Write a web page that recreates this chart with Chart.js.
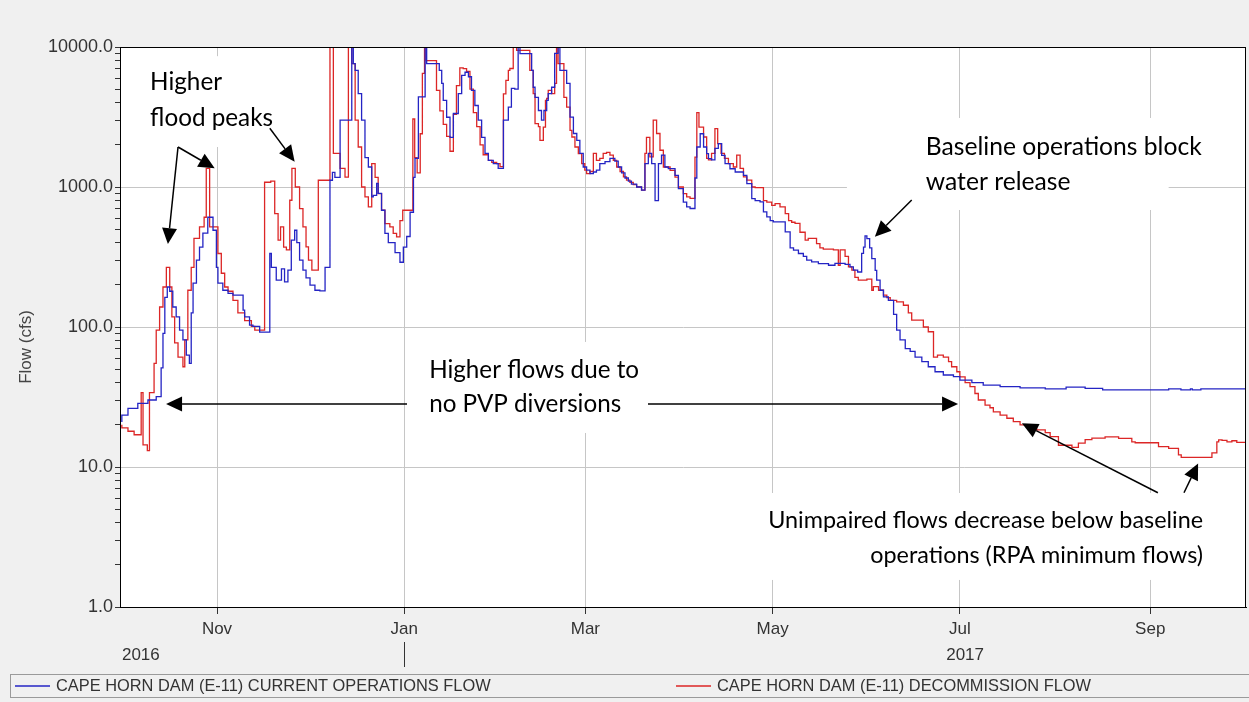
<!DOCTYPE html>
<html lang="en">
<head>
  <meta charset="UTF-8" />
  <title>Cape Horn Dam (E-11) Flow</title>
  <script src="https://cdn.jsdelivr.net/npm/chart.js"></script>
  <style>
    html, body { margin: 0; padding: 0; background: #f0f0f0; }
    canvas { display: block; }
  </style>
</head>
<body>
  <canvas id="flowChart" width="1249" height="702"></canvas>

  <script>
    // day 0 = 1 Oct 2016 (water year 2017), flows in cfs
    const seriesNames = [
      'CAPE HORN DAM (E-11) CURRENT OPERATIONS FLOW',
      'CAPE HORN DAM (E-11) DECOMMISSION FLOW'
    ];

    const currentDays = [0, 2, 5.2, 8.5, 11.2, 12.8, 13.4, 14, 14.8, 15.6, 16.6, 17.7, 18.8, 19.9, 21, 22, 22.6, 23.2, 24.3, 25.3,
      26.4, 28, 29.7, 30.8, 31.3, 32.9, 34.6, 36.2, 39.5, 40, 41.6, 42.7, 44.9, 48.2, 48.7, 50.3, 52, 53, 54.1, 55.2,
      56.3, 57, 57.9, 59, 60, 61.3, 62.9, 64.5, 66.2, 67.8, 68.6, 69.4, 71.1, 74.9, 75.4, 76, 77, 78.1, 79.2, 80.3,
      81.4, 81.9, 83, 83.5, 84.6, 85.7, 86.8, 89, 90.6, 91.7, 92.8, 93.9, 95, 95.5, 96.6, 98.8, 99.3, 103.4, 104.2, 104.7,
      105.8, 106.9, 108, 109.6, 110.7, 111.8, 112.9, 113.9, 115, 116.1, 117.2, 118.3, 119.4, 121, 122.6, 124.3, 125.9, 126.9, 128, 129.1,
      129.7, 133.5, 134, 134.6, 135.7, 136.7, 137.5, 138.4, 138.9, 140, 141, 142.1, 142.7, 144.9, 146, 147.1, 148.2, 149.2, 150.3, 151.4,
      152.5, 153.6, 154.6, 155.7, 157.4, 159, 160.6, 161.7, 162.8, 163.9, 165, 166, 167.7, 169.3, 170.4, 171.5, 172.6, 173.7, 174.8, 175.8,
      176.9, 178, 180.2, 181.3, 182.9, 184, 185.1, 186.7, 187.3, 188.4, 189.5, 190.5, 191.1, 192.1, 193.2, 194.3, 195.4, 196.5, 198.1, 199.8,
      202.5, 203.6, 205.2, 206.3, 207.9, 209, 210.1, 211.2, 212.2, 216.1, 217.7, 218.8, 220.4, 222, 223.1, 224.7, 226.9, 230.2, 232.3, 235.6,
      237.2, 238.3, 239.7, 241, 241.6, 242.1, 242.7, 243.6, 244.3, 245.4, 245.9, 247, 248.1, 249.7, 251.4, 252.4, 253.5, 255.2, 256.8, 258.4,
      260.6, 262.7, 264.9, 267.6, 270.9, 273, 276.9, 280.6, 286.1, 292.6, 300.8, 307.6, 313.8, 319.5, 341, 345, 348.1, 348.7, 351.5, 352.6,
      366];
    const currentFlow = [21, 23.5, 26.2, 28.5, 30.1, 31.8, 51, 90, 163, 193, 180, 139, 118, 95, 81, 63, 55, 126, 206, 300,
      372, 468, 608, 491, 267, 206, 183, 174, 169, 132, 118, 103, 101, 92, 335, 267, 216, 260, 210, 255,
      417, 491, 400, 300, 255, 224, 199, 183, 181, 267, 1117, 1270, 1170, 3000, 15000, 7620, 6800, 4650, 3000, 1620,
      1390, 850, 870, 1060, 900, 682, 467, 400, 340, 290, 372, 443, 660, 1170, 1600, 4400, 15000, 7620, 6800, 5500,
      4160, 3150, 2260, 3350, 4650, 6280, 6600, 6130, 4900, 3820, 3000, 2260, 1740, 1550, 1470, 1360, 3000, 3720, 5060, 5000,
      15000, 8980, 6800, 5160, 4370, 3520, 3000, 3520, 4160, 4650, 5160, 9000, 15000, 6800, 5500, 3160, 2410, 2150, 1740, 1390,
      1320, 1245, 1280, 1320, 1470, 1520, 1600, 1530, 1390, 1260, 1160, 1100, 1050, 1000, 950, 1470, 1740, 1470, 800, 1470,
      1690, 1390, 1353, 1211, 973, 780, 720, 702, 1160, 1930, 2400, 1930, 1730, 1596, 1560, 1890, 2040, 1683, 1470, 1350,
      1280, 1210, 1057, 826, 800, 782, 664, 611, 576, 563, 478, 367, 354, 335, 320, 300, 292, 284, 276, 285,
      280, 269, 255, 247, 336, 372, 447, 428, 367, 308, 254, 216, 183, 164, 155, 123, 95, 81, 70, 67,
      61, 56.5, 52, 47.9, 45.4, 44.2, 41.8, 40, 38.5, 37.5, 36.8, 36.2, 37.2, 36.4, 35.6, 36.2, 35.5, 36.2, 35.5, 36.2,
      36.2];

    const decomDays = [0, 2, 4, 6.3, 6.9, 8.3, 9, 10.5, 11.2, 12.3, 13.4, 14.5, 15.6, 16.3, 17.2, 18.3, 19.9, 20.5, 21.5, 22.6,
      23.5, 25.3, 26.8, 27.5, 28.6, 31.3, 32.4, 33.5, 34.6, 36.2, 37.8, 40, 42.2, 43.3, 46.5, 48.5, 49.8, 50.9, 51.7, 52.7,
      53.6, 54.7, 55.4, 56.5, 57.9, 59, 60, 60.8, 61.9, 64, 67.8, 68.9, 71.1, 72.7, 73.8, 74.9, 76, 77, 78.1, 79.2,
      80.3, 81.4, 82.5, 83.5, 84.6, 85.7, 87.3, 88.4, 89.5, 90.6, 91.5, 94.8, 95.4, 96.2, 97.2, 97.9, 98.6, 99.1, 102.5, 103.6,
      104.7, 105.8, 106.9, 108, 109, 110.1, 111.2, 112.3, 113.4, 114.5, 115.6, 116.7, 117.7, 119.4, 120.5, 122.1, 123.2, 124.3, 125.1, 125.9,
      126.4, 127.5, 128.6, 132.9, 134, 134.6, 135.7, 136.2, 137.3, 138, 138.4, 138.9, 140, 141, 141.6, 142.1, 144, 144.9, 146, 146.6,
      147.6, 148.7, 149.8, 150.8, 151.4, 152.5, 153.6, 154.6, 155.7, 156.8, 157.9, 159, 160.1, 161.2, 162.3, 163.4, 164.4, 165.5, 166.6, 167.7,
      169.3, 170.4, 170.9, 172, 173.1, 174.2, 175.3, 176.4, 178.6, 180.2, 181.3, 182.9, 184, 185.1, 186.7, 187.3, 188, 189.5, 190.5, 191.1,
      192.1, 193.2, 194.1, 195.2, 196.3, 197.6, 199.2, 200.3, 201.4, 202.5, 203.6, 205.2, 206.3, 209, 210.1, 211.7, 212.8, 214.4, 216.1, 217.2,
      218.2, 219.3, 220.9, 222.6, 223.6, 226.3, 227.4, 228.5, 231.8, 233.4, 234, 234.5, 235.6, 236.7, 237.8, 238.8, 239.9, 242.7, 244.3, 244.8,
      246.5, 248.1, 249.2, 250.3, 252.4, 254.6, 256.2, 257.3, 261.1, 262.7, 264.4, 265.7, 267.6, 269.3, 270.3, 272, 273, 274.7, 276.3, 277.9,
      279, 281.2, 282.8, 283.9, 286.1, 288.3, 290.4, 292.6, 294.8, 298, 300.8, 302.4, 305.1, 309.5, 311.6, 313.8, 316, 320.3, 324.7, 329,
      330.1, 337.7, 341, 344.2, 345.1, 348.6, 355.1, 356.7, 357.3, 358.4, 360, 361.6, 363.2, 366];
    const decomFlow = [20, 19, 18, 17, 34, 14.4, 13.1, 34, 55, 95, 139, 193, 267, 193, 118, 77, 61, 52, 81, 183,
      267, 430, 519, 608, 1360, 519, 335, 242, 193, 180, 155, 126, 111, 101, 95, 1081, 1100, 645, 417, 519,
      372, 355, 804, 1360, 1000, 700, 519, 373, 300, 255, 1117, 15000, 1740, 1360, 1178, 15000, 7620, 3000, 1930, 1000,
      850, 720, 1469, 1170, 897, 682, 548, 519, 467, 440, 576, 682, 3060, 1620, 1260, 2400, 6470, 15000, 8000, 4900,
      3500, 2800, 2300, 1800, 3300, 5300, 7100, 7000, 6700, 5000, 3400, 2700, 2000, 1700, 1550, 1500, 1470, 1400, 4630, 5770,
      6800, 7020, 15000, 9450, 6800, 4650, 2840, 2700, 2150, 2680, 4160, 4300, 4900, 4650, 5500, 15000, 7620, 4370, 3720, 2540,
      2275, 1930, 1730, 1470, 1320, 1245, 1290, 1740, 1550, 1600, 1740, 1770, 1690, 1550, 1390, 1290, 1180, 1120, 1080, 1040,
      1000, 950, 1740, 2260, 1640, 3000, 2410, 1830, 1390, 1316, 1178, 1000, 897, 849, 830, 1637, 3400, 2680, 2275, 1600,
      1560, 1740, 2610, 2040, 1740, 1600, 1469, 1390, 1690, 1360, 1180, 1120, 1000, 990, 800, 780, 740, 761, 720, 645,
      576, 560, 550, 475, 417, 430, 394, 367, 360, 355, 276, 356, 356, 320, 269, 255, 226, 216, 220, 183,
      194, 183, 169, 162, 155, 151, 143, 126, 112, 100, 92.5, 61, 63, 61, 56.5, 52, 47.9, 44, 40, 37.5,
      33.5, 30.1, 27.7, 26.5, 24.8, 23.5, 22.3, 21.1, 20, 19.2, 18.4, 17.6, 16.5, 14.3, 13.8, 14.8, 15.7, 16.1, 16.4, 16,
      15.1, 14.9, 14, 13.6, 12.2, 11.7, 11.7, 12.6, 15.1, 15.6, 15.5, 15.1, 15.4, 15];

    // axis labels
    const monthTicks = [31, 92, 151, 212, 273, 335];
    const monthLabels = ['Nov', 'Jan', 'Mar', 'May', 'Jul', 'Sep'];
    const yearLabels = ['2016', '2017'];
    const yearDays = [6.2, 274.7];
    const yearBreakDay = 92;

    // callouts, placed in data units (day, cfs)
    const notes = [
      { lines: ['Higher', 'flood peaks'], day: 9.2, flows: [4930, 2730], align: 'left', width: 123 },
      { lines: ['Baseline operations block', 'water release'], day: 261.9, flows: [1693, 952], align: 'left', width: 276 },
      { lines: ['Higher flows due to', 'no PVP diversions'], day: 100.1, flows: [43.3, 24.7], align: 'left', width: 210 },
      { lines: ['Unimpaired flows decrease below baseline', 'operations (RPA minimum flows)'], day: 352.2, flows: [3.66, 2.06], align: 'right', width: 435 }
    ];
    const noteBoxes = [
      [2, 50.9, 8600, 1931],
      [236.2, 341, 3112, 685],
      [93.2, 171.4, 78.2, 17.5],
      [204.6, 361, 6.52, 1.56]
    ];
    const arrows = [
      [18.3, 1931, 15.0, 391],
      [18.3, 1931, 30.25, 1360],
      [48.2, 2625, 56.3, 1517],
      [257.3, 807, 245.3, 441],
      [92.9, 28.2, 14.4, 28.2],
      [171.4, 28.2, 272.4, 28.2],
      [337.5, 6.55, 293.2, 20.5],
      [346, 6.55, 350.6, 10.6]
    ];

    const BLUE = '#2424c4';
    const RED = '#dc2626';
    const AXIS_FONT = 'Liberation Sans, Arial, sans-serif';

    const isDecade = v => Math.abs(Math.log10(v) - Math.round(Math.log10(v))) < 1e-9;

    function drawArrow(ctx, x1, y1, x2, y2) {
      const a = Math.atan2(y2 - y1, x2 - x1);
      const len = 16, hw = 7.5;
      const bx = x2 - len * Math.cos(a), by = y2 - len * Math.sin(a);
      ctx.beginPath();
      ctx.moveTo(x1, y1);
      ctx.lineTo(bx, by);
      ctx.stroke();
      ctx.beginPath();
      ctx.moveTo(x2, y2);
      ctx.lineTo(bx + hw * Math.sin(a), by - hw * Math.cos(a));
      ctx.lineTo(bx - hw * Math.sin(a), by + hw * Math.cos(a));
      ctx.closePath();
      ctx.fill();
    }

    const decorations = {
      id: 'decorations',
      beforeDraw(chart) {
        const { ctx, chartArea: a } = chart;
        ctx.save();
        ctx.fillStyle = '#f0f0f0';
        ctx.fillRect(0, 0, chart.width, chart.height);
        ctx.fillStyle = '#fff';
        ctx.fillRect(a.left, a.top, a.right - a.left, a.bottom - a.top);
        ctx.restore();
      },
      beforeDatasetsDraw(chart) {
        // white boxes behind the callout text hide the grid
        const { ctx, scales: { x, y } } = chart;
        ctx.save();
        ctx.fillStyle = '#fff';
        noteBoxes.forEach(([d1, d2, f1, f2]) => {
          const x1 = x.getPixelForValue(d1), x2 = x.getPixelForValue(d2);
          const y1 = y.getPixelForValue(f1), y2 = y.getPixelForValue(f2);
          ctx.fillRect(x1, y1, x2 - x1, y2 - y1);
        });
        ctx.restore();
      },
      afterDatasetsDraw(chart) {
        const { ctx, chartArea: a, scales: { x, y } } = chart;
        ctx.save();
        // frame
        ctx.strokeStyle = '#000';
        ctx.lineWidth = 1;
        ctx.strokeRect(a.left + 0.5, a.top + 0.5, a.right - a.left - 1, a.bottom - a.top);

        // arrows
        ctx.strokeStyle = '#000';
        ctx.fillStyle = '#000';
        ctx.lineWidth = 1.5;
        arrows.forEach(([d1, f1, d2, f2]) => {
          drawArrow(ctx, x.getPixelForValue(d1), y.getPixelForValue(f1),
                         x.getPixelForValue(d2), y.getPixelForValue(f2));
        });

        // callout text
        notes.forEach(n => {
          ctx.font = '100px Lato';
          const w = Math.max(...n.lines.map(l => ctx.measureText(l).width));
          const size = 100 * n.width / w;
          ctx.font = size.toFixed(2) + 'px Lato';
          ctx.textAlign = n.align;
          ctx.textBaseline = 'alphabetic';
          ctx.fillStyle = '#000';
          n.lines.forEach((l, i) => {
            ctx.fillText(l, x.getPixelForValue(n.day), y.getPixelForValue(n.flows[i]));
          });
        });
        ctx.restore();
      },
      afterDraw(chart) {
        const { ctx, scales: { x } } = chart;
        ctx.save();
        // y axis title
        ctx.fillStyle = '#444';
        ctx.font = '17px ' + AXIS_FONT;
        ctx.textAlign = 'center';
        ctx.textBaseline = 'middle';
        ctx.translate(26, 347);
        ctx.rotate(-Math.PI / 2);
        ctx.fillText('Flow (cfs)', 0, 0);
        ctx.setTransform(1, 0, 0, 1, 0, 0);

        // year row
        ctx.fillStyle = '#333';
        yearLabels.forEach((t, i) => ctx.fillText(t, x.getPixelForValue(yearDays[i]), 655));
        const bx = Math.round(x.getPixelForValue(yearBreakDay)) + 0.5;
        ctx.strokeStyle = '#333';
        ctx.lineWidth = 1;
        ctx.beginPath();
        ctx.moveTo(bx, 642);
        ctx.lineTo(bx, 667);
        ctx.stroke();

        // legend strip
        ctx.strokeStyle = '#9a9a9a';
        ctx.strokeRect(10.5, 674.5, chart.width - 10, 23);
        const items = [[15, 50, BLUE], [676, 711, RED]];
        ctx.font = '16.4px ' + AXIS_FONT;
        ctx.textAlign = 'left';
        ctx.fillStyle = '#333';
        items.forEach(([x1, x2, c], i) => {
          ctx.strokeStyle = c;
          ctx.lineWidth = 1.5;
          ctx.beginPath();
          ctx.moveTo(x1, 686);
          ctx.lineTo(x2, 686);
          ctx.stroke();
          ctx.fillText(seriesNames[i], x2 + 6, 686);
        });
        ctx.restore();
      }
    };

    const toPoints = (days, flows) => days.map((d, i) => ({ x: d, y: flows[i] }));

    new Chart(document.getElementById('flowChart').getContext('2d'), {
      type: 'line',
      data: {
        datasets: [
          {
            label: seriesNames[0],
            data: toPoints(currentDays, currentFlow),
            borderColor: BLUE,
            borderWidth: 1.3,
            pointRadius: 0,
            stepped: 'after',
            fill: false
          },
          {
            label: seriesNames[1],
            data: toPoints(decomDays, decomFlow),
            borderColor: RED,
            borderWidth: 1.3,
            pointRadius: 0,
            stepped: 'after',
            fill: false
          }
        ]
      },
      options: {
        responsive: false,
        animation: false,
        devicePixelRatio: 1,
        layout: { padding: { top: 47, right: 3, left: 0, bottom: 0 } },
        plugins: {
          legend: { display: false },
          tooltip: { enabled: false }
        },
        scales: {
          x: {
            type: 'linear',
            min: -0.6,
            max: 366.2,
            afterBuildTicks: s => { s.ticks = monthTicks.map(v => ({ value: v })); },
            afterFit: s => { s.height = 95; },
            ticks: {
              autoSkip: false,
              maxRotation: 0,
              padding: 5,
              color: '#333',
              font: { family: AXIS_FONT, size: 17 },
              callback: (v, i) => monthLabels[i]
            },
            grid: { color: '#c6c6c6', tickColor: '#333', tickLength: 7 },
            border: { color: '#000' }
          },
          y: {
            type: 'logarithmic',
            min: 1,
            max: 10000,
            afterBuildTicks: s => {
              const t = [];
              for (let e = 0; e < 4; e++) {
                for (let m = 1; m < 10; m++) t.push({ value: m * Math.pow(10, e) });
              }
              t.push({ value: 10000 });
              s.ticks = t;
            },
            afterFit: s => { s.width = 120; },
            ticks: {
              autoSkip: false,
              padding: 2,
              color: '#333',
              font: { family: AXIS_FONT, size: 18 },
              callback: v => (isDecade(v) ? Number(v).toFixed(1) : '')
            },
            grid: {
              color: c => (c.tick && isDecade(c.tick.value) ? '#c6c6c6' : 'rgba(0,0,0,0)'),
              tickColor: '#333',
              tickLength: 5
            },
            border: { color: '#000' }
          }
        }
      },
      plugins: [decorations]
    });
  </script>
</body>
</html>
